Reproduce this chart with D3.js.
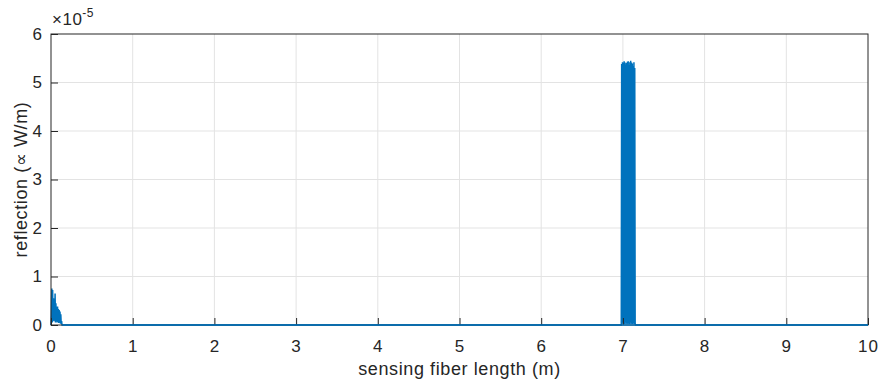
<!DOCTYPE html>
<html>
<head>
<meta charset="utf-8">
<script src="https://cdn.jsdelivr.net/npm/d3@7"></script>
<style>
  body { margin: 0; background: #fff; }
  svg { font-family: "Liberation Sans", Arial, sans-serif; }
</style>
</head>
<body>
<svg class="chart"></svg>
<script>
// values in units of 1e-5 W/m
var xTicks = [0, 1, 2, 3, 4, 5, 6, 7, 8, 9, 10];
var yTicks = [0, 1, 2, 3, 4, 5, 6];

// reflection near the fiber start
var nearX = [0, 0.005, 0.01, 0.015, 0.02, 0.025, 0.03, 0.035, 0.04, 0.045, 0.05, 0.055, 0.06, 0.065, 0.07, 0.075, 0.08, 0.085, 0.09, 0.095, 0.1, 0.105, 0.11, 0.115, 0.12, 0.125, 0.13, 0.135, 0.14];
var nearY = [0, 0.2, 0.75, 0.05, 0.72, 0.1, 0.55, 0.08, 0.5, 0.1, 0.65, 0.05, 0.45, 0.08, 0.36, 0.05, 0.38, 0.06, 0.33, 0.04, 0.31, 0.05, 0.28, 0.03, 0.22, 0.02, 0.08, 0, 0];

// reflection around 7 m
var blockX = [6.975, 6.98, 6.985, 6.99, 6.995, 7.0, 7.005, 7.01, 7.015, 7.02, 7.025, 7.03, 7.035, 7.04, 7.045, 7.05, 7.055, 7.06, 7.065, 7.07, 7.075, 7.08, 7.085, 7.09, 7.095, 7.1, 7.105, 7.11, 7.115, 7.12, 7.125, 7.13, 7.135, 7.14, 7.145, 7.15, 7.155, 7.16];
var blockY = [0, 0, 5.38, 0.02, 5.42, 0.05, 5.4, 0.03, 5.44, 0.02, 5.41, 0.05, 5.37, 0.02, 5.4, 0.04, 5.43, 0.02, 5.44, 0.03, 5.36, 0.02, 5.42, 0.05, 5.45, 0.02, 5.41, 0.03, 5.39, 0.02, 5.34, 0.04, 5.42, 0.02, 5.3, 0.03, 0, 0];

var tailX = [10];
var tailY = [0];

var margin = {top: 34, right: 13, bottom: 57, left: 51},
    width = 881 - margin.left - margin.right,
    height = 382 - margin.top - margin.bottom;

var x = d3.scaleLinear().domain([0, 10]).range([0, width]);
var y = d3.scaleLinear().domain([0, 6]).range([height, 0]);

var svg = d3.select(".chart")
    .attr("width", 881)
    .attr("height", 382);

var chart = svg.append("g")
    .attr("transform", "translate(" + margin.left + "," + margin.top + ")");

// grid
chart.append("g").selectAll("line.vg")
    .data(xTicks.slice(1, -1))
  .enter().append("line")
    .attr("x1", function(d) { return x(d); })
    .attr("x2", function(d) { return x(d); })
    .attr("y1", 0).attr("y2", height)
    .attr("stroke", "#e3e3e3").attr("stroke-width", 1);

chart.append("g").selectAll("line.hg")
    .data(yTicks.slice(1, -1))
  .enter().append("line")
    .attr("y1", function(d) { return y(d); })
    .attr("y2", function(d) { return y(d); })
    .attr("x1", 0).attr("x2", width)
    .attr("stroke", "#e3e3e3").attr("stroke-width", 1);

// data line
var pts = [];
nearX.forEach(function(d, i) { pts.push([d, nearY[i]]); });
blockX.forEach(function(d, i) { pts.push([d, blockY[i]]); });
tailX.forEach(function(d, i) { pts.push([d, tailY[i]]); });

var line = d3.line()
    .x(function(d) { return x(d[0]); })
    .y(function(d) { return y(d[1]); });

chart.append("path")
    .datum(pts)
    .attr("fill", "none")
    .attr("stroke", "#0072BD")
    .attr("stroke-width", 1.5)
    .attr("stroke-linejoin", "miter")
    .attr("d", line);

// axes (MATLAB style, ticks inside)
var xAxis = d3.axisBottom(x).tickValues(xTicks).tickSize(-7).tickPadding(15).tickFormat(d3.format("d"));
var yAxis = d3.axisLeft(y).tickValues(yTicks).tickSize(-7).tickPadding(8).tickFormat(d3.format("d"));

var gx = chart.append("g")
    .attr("transform", "translate(0," + height + ")")
    .call(xAxis);
var gy = chart.append("g").call(yAxis);

[gx, gy].forEach(function(g) {
  g.select(".domain").remove();
  g.selectAll("line").attr("stroke", "#262626");
  g.selectAll("text").attr("fill", "#262626").style("font-size", "17px").style("letter-spacing", "1px");
});

// box
chart.append("rect")
    .attr("x", 0).attr("y", 0)
    .attr("width", width).attr("height", height)
    .attr("fill", "none")
    .attr("stroke", "#262626")
    .attr("stroke-width", 1);

// re-draw line on top of bottom edge
chart.append("line")
    .attr("x1", x(0.14)).attr("x2", width)
    .attr("y1", y(0)).attr("y2", y(0))
    .attr("stroke", "#0072BD").attr("stroke-width", 1.5);

// exponent
var ex = svg.append("text")
    .attr("x", margin.left + 1)
    .attr("y", margin.top - 9)
    .attr("fill", "#262626")
    .style("font-size", "17px")
    .style("letter-spacing", "0.5px");
ex.append("tspan").text("\u00d710");
ex.append("tspan").attr("dy", -8).style("font-size", "12px").text("-5");

// labels
svg.append("text")
    .attr("x", margin.left + width / 2)
    .attr("y", 375)
    .attr("text-anchor", "middle")
    .attr("fill", "#262626")
    .style("font-size", "18px")
    .style("letter-spacing", "0.6px")
    .text("sensing fiber length (m)");

svg.append("text")
    .attr("transform", "rotate(-90)")
    .attr("x", -(margin.top + height / 2))
    .attr("y", 27)
    .attr("text-anchor", "middle")
    .attr("fill", "#262626")
    .style("font-size", "18px")
    .style("letter-spacing", "0.6px")
    .text("reflection (\u221d W/m)");
</script>
</body>
</html>
